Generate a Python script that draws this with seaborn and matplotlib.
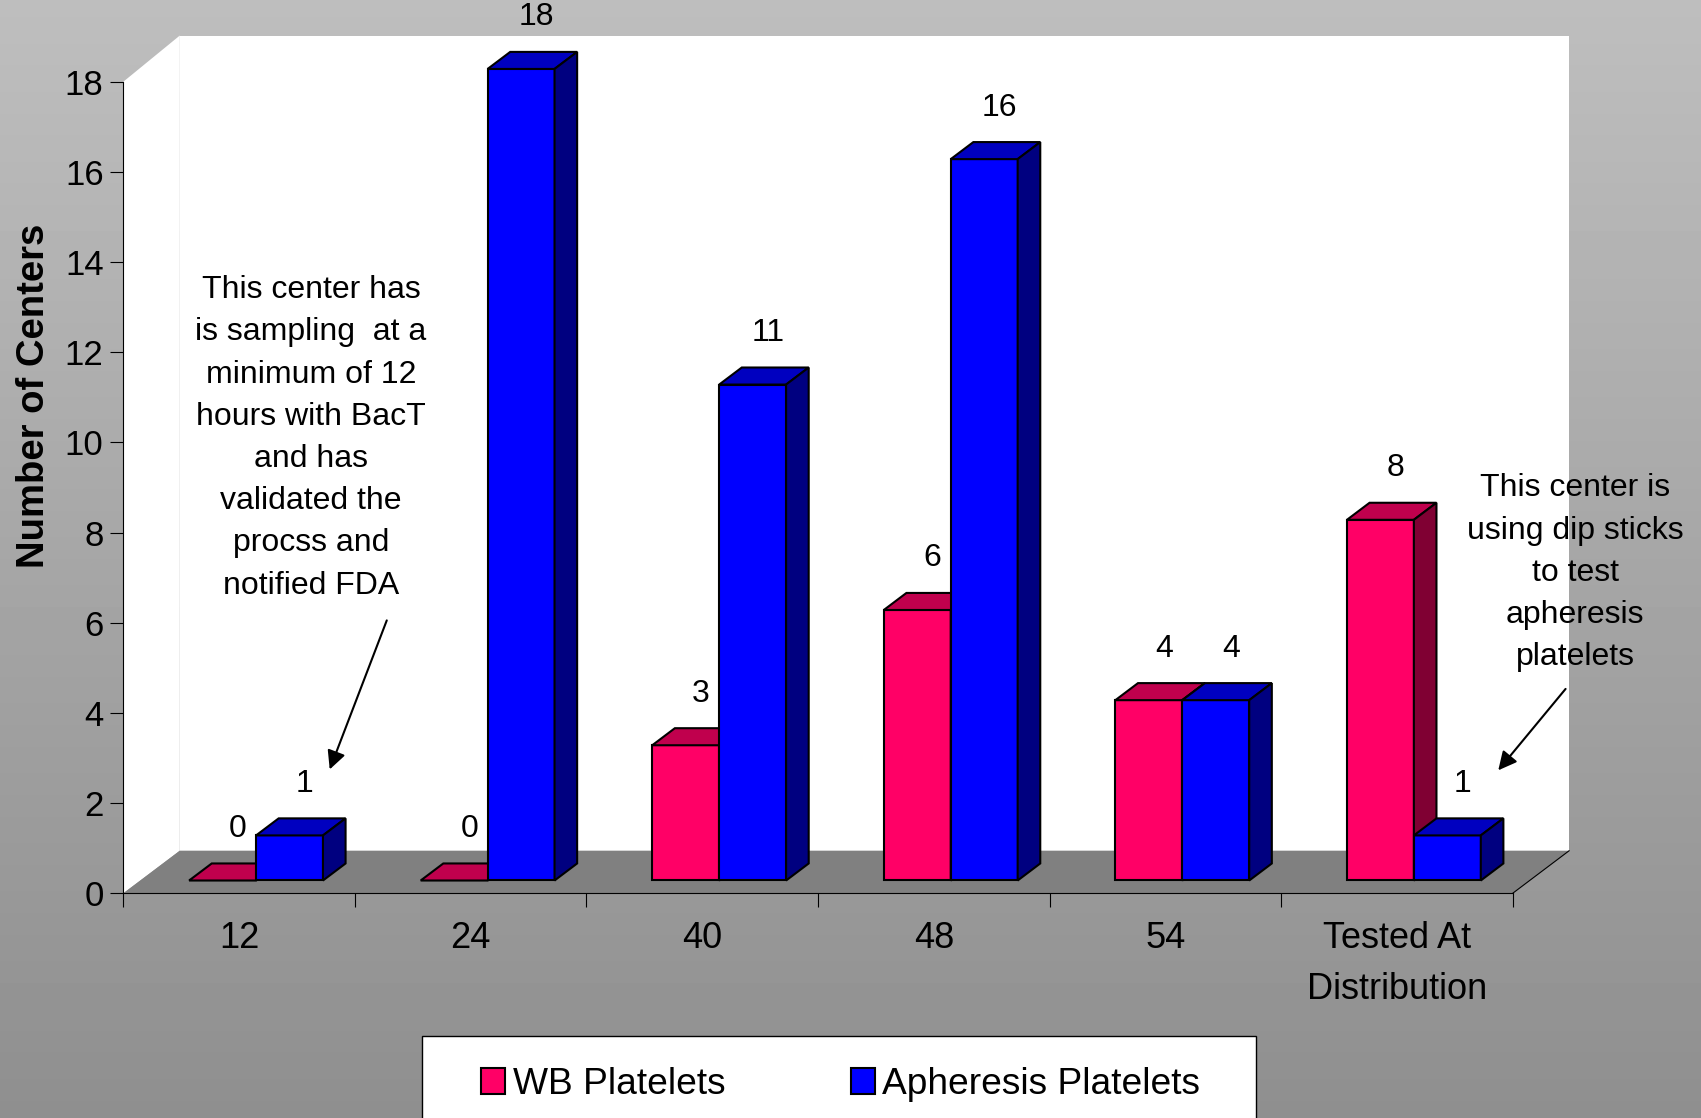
import matplotlib
matplotlib.use("Agg")
import matplotlib.pyplot as plt
from matplotlib.patches import Polygon, Rectangle
from matplotlib.transforms import Affine2D
import numpy as np
import pandas as pd
import seaborn as sns

hours = ["12", "24", "40", "48", "54", "Tested At\nDistribution"]
wb_platelets = [0, 0, 3, 6, 4, 8]
apheresis_platelets = [1, 18, 11, 16, 4, 1]
series_names = ["WB Platelets", "Apheresis Platelets"]
y_ticks = list(range(0, 19, 2))

left_note = ("This center has\nis sampling  at a\nminimum of 12\nhours with BacT\n"
             "and has\nvalidated the\nprocss and\nnotified FDA")
right_note = "This center is\nusing dip sticks\nto test\napheresis\nplatelets"

front_colors = {"WB Platelets": "#ff0066", "Apheresis Platelets": "#0000ff"}
top_colors = ["#c0004d", "#0000c0"]
side_colors = ["#800033", "#000080"]

table = pd.DataFrame({
    "hours": hours * 2,
    "centers": wb_platelets + apheresis_platelets,
    "series": [series_names[0]] * len(hours) + [series_names[1]] * len(hours),
})

# fake 3-D depth of the chart box, in data units (x: categories, y: centers)
DEPTH_X, DEPTH_Y = 0.244, 0.945
BAR_FRONT, BAR_BACK = 0.3, 0.7

sns.set_style("white")
plt.rcParams["font.family"] = ["Liberation Sans", "DejaVu Sans"]
plt.rcParams["text.color"] = "black"
plt.rcParams["xtick.color"] = "black"
plt.rcParams["ytick.color"] = "black"

fig = plt.figure(figsize=(17.01, 11.18), dpi=100)

# gray slide background
bg = fig.add_axes([0, 0, 1, 1], zorder=-10)
shade = np.linspace(0.745, 0.56, 256)[:, None] * np.ones((1, 2))
bg.imshow(shade, cmap="gray", vmin=0, vmax=1, aspect="auto", extent=[0, 1, 0, 1])
bg.axis("off")

ax = fig.add_axes([0.0725, 0.2010, 0.8168, 0.7259])
ax.set_facecolor("none")

sns.barplot(data=table, x="hours", y="centers", hue="series", order=hours,
            hue_order=series_names, palette=front_colors, width=0.578,
            saturation=1, edgecolor="black", linewidth=1.5, errorbar=None,
            legend=False, ax=ax)

n = len(hours)
ax.set_xlim(-0.5, n - 0.5)
ax.set_ylim(0, 18)
x_lo, x_hi = ax.get_xlim()

# walls and floor
wall_top = 18.08 + DEPTH_Y
ax.add_patch(Polygon([(x_lo + DEPTH_X, DEPTH_Y), (x_hi + DEPTH_X, DEPTH_Y),
                      (x_hi + DEPTH_X, wall_top), (x_lo + DEPTH_X, wall_top)],
                     fc="white", ec="none", zorder=0.1, clip_on=False))
ax.add_patch(Polygon([(x_lo, 0), (x_lo, 18), (x_lo + DEPTH_X, wall_top), (x_lo + DEPTH_X, DEPTH_Y)],
                     fc="white", ec="none", zorder=0.1, clip_on=False))
ax.add_patch(Polygon([(x_lo, 0), (x_hi, 0), (x_hi + DEPTH_X, DEPTH_Y), (x_lo + DEPTH_X, DEPTH_Y)],
                     fc="#808080", ec="none", zorder=0.2, clip_on=False))
ax.plot([x_hi, x_hi + DEPTH_X], [0, DEPTH_Y], color="black", lw=0.8, clip_on=False, zorder=0.3)

# push the bars into the box and give them top and side faces
fx, fy = BAR_FRONT * DEPTH_X, BAR_FRONT * DEPTH_Y
bx, by = (BAR_BACK - BAR_FRONT) * DEPTH_X, (BAR_BACK - BAR_FRONT) * DEPTH_Y
shift = Affine2D().translate(fx, fy) + ax.transData
for k, (container, values) in enumerate(zip(ax.containers, [wb_platelets, apheresis_platelets])):
    for bar, val in zip(container, values):
        bar.set_transform(shift)
        bar.set_zorder(2 + k)
        bar.set_clip_on(False)
        x0, w, h = bar.get_x() + fx, bar.get_width(), bar.get_height()
        y1 = fy + h
        top = [(x0, y1), (x0 + w, y1), (x0 + w + bx, y1 + by), (x0 + bx, y1 + by)]
        side = [(x0 + w, fy), (x0 + w + bx, fy + by), (x0 + w + bx, y1 + by), (x0 + w, y1)]
        ax.add_patch(Polygon(top, fc=top_colors[k], ec="black", lw=1.5, zorder=2 + k, clip_on=False))
        ax.add_patch(Polygon(side, fc=side_colors[k], ec="black", lw=1.5, zorder=2 + k, clip_on=False))
        ax.annotate(str(val), xy=(x0 + (w + bx) / 2, y1 + by / 2), xytext=(4, 43),
                    textcoords="offset pixels", ha="center", va="center",
                    fontsize=23, zorder=6, annotation_clip=False)

# axes, ticks
ax.set_xticks(range(n))
ax.set_xticklabels(hours)
ax.set_xticks(np.arange(-0.5, n), minor=True)
ax.set_yticks(y_ticks)
ax.tick_params(axis="x", which="major", bottom=True, length=0, pad=20, labelsize=26)
ax.tick_params(axis="x", which="minor", bottom=True, length=10, width=0.8, color="black")
ax.tick_params(axis="y", left=True, length=9.4, width=0.8, pad=4.8, labelsize=25, color="black")
for lbl in ax.get_xticklabels():
    lbl.set_linespacing(1.6)
ax.set_xlabel("")
ax.set_ylabel("")
for side_name in ["top", "right"]:
    ax.spines[side_name].set_visible(False)
for side_name in ["left", "bottom"]:
    ax.spines[side_name].set_color("black")
    ax.spines[side_name].set_linewidth(0.8)

fig.text(34.5 / 1701, 1 - 396 / 1118, "Number of Centers", rotation=90,
         ha="center", va="center", fontsize=27.5, fontweight="bold")

# notes with arrows
ax.text(0.31, 10.1, left_note, ha="center", va="center", fontsize=23,
        linespacing=1.53, zorder=6)
ax.annotate("", xy=(0.387, 2.69), xytext=(0.642, 6.11),
            arrowprops=dict(arrowstyle="-|>", color="black", lw=1.5, mutation_scale=28), zorder=6)
ax.text(5.77, 7.11, right_note, ha="center", va="center", fontsize=23,
        linespacing=1.53, zorder=6, clip_on=False)
ax.annotate("", xy=(5.43, 2.68), xytext=(5.736, 4.58),
            arrowprops=dict(arrowstyle="-|>", color="black", lw=1.5, mutation_scale=28), zorder=6)

# legend box, running off the bottom of the slide
fig.patches.append(Rectangle((422 / 1701, -0.05), (1256 - 422) / 1701, 0.05 + 1 - 1036 / 1118,
                             transform=fig.transFigure, fc="white", ec="black", lw=1.0, zorder=1))
handles = [Rectangle((0, 0), 1, 1, fc=front_colors[s], ec="black", lw=1.5) for s in series_names]
fig.legend(handles, series_names, loc="center", bbox_to_anchor=(0.4944, 0.030), ncol=2,
           frameon=False, fontsize=26.7, handlelength=0.64, handleheight=0.67,
           handletextpad=0.2, columnspacing=3.4)

fig.savefig("out.png", dpi=100)
plt.close(fig)
